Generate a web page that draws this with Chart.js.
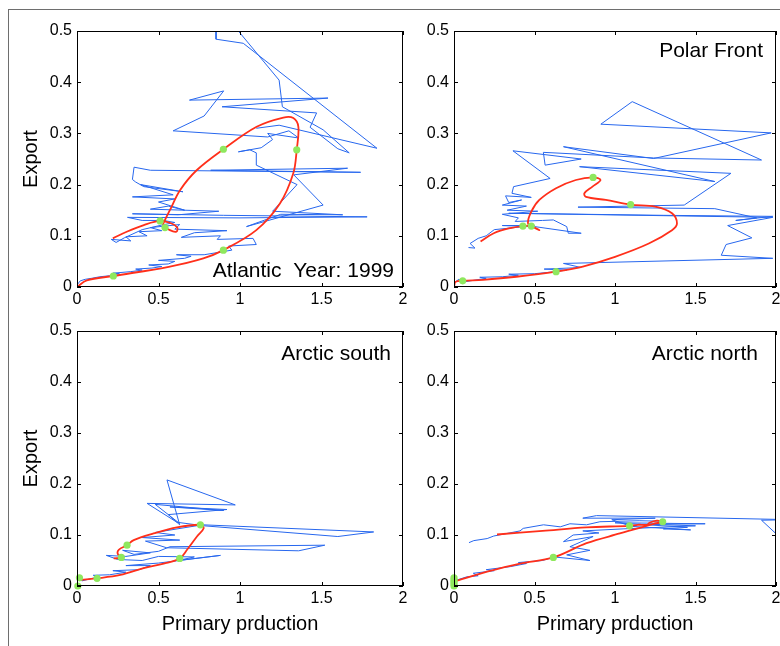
<!DOCTYPE html>
<html>
<head>
<meta charset="utf-8">
<script src="https://cdn.jsdelivr.net/npm/chart.js@4.4.1/dist/chart.umd.min.js"></script>
<style>
  body { margin: 0; background: #fff; }
  #page { position: relative; width: 780px; height: 646px; overflow: hidden; background: #fff; }
  #frame { position: absolute; left: 8px; top: 9px; width: 800px; height: 700px; border-left: 1px solid #6e6e6e; border-top: 1px solid #6e6e6e; }
  canvas { position: absolute; }
</style>
</head>
<body>
<div id="page">
  <div id="frame"></div>
  <canvas id="atlantic" width="410" height="310" style="left:0;top:0"></canvas>
  <canvas id="polar" width="370" height="310" style="left:410px;top:0"></canvas>
  <canvas id="south" width="410" height="336" style="left:0;top:310px"></canvas>
  <canvas id="north" width="370" height="336" style="left:410px;top:310px"></canvas>
</div>
<script>
const xTicks = [0, 0.5, 1, 1.5, 2];
const yTicks = [0, 0.1, 0.2, 0.3, 0.4, 0.5];
const xLabel = 'Primary prduction';
const yLabel = 'Export';

// ---- Atlantic ----
const atlanticObs = [
  [0.00,0.004],[0.02,0.012],[0.05,0.015],[0.09,0.017],[0.14,0.02],[0.2,0.022],[0.26,0.026],[0.22,0.027],
  [0.33,0.03],[0.4,0.033],[0.36,0.035],[0.46,0.037],[0.52,0.04],[0.44,0.043],[0.56,0.045],[0.6,0.05],
  [0.5,0.052],[0.66,0.056],[0.7,0.06],[0.61,0.063],[0.78,0.063],
  [0.95,0.072],[0.93,0.08],[1.1,0.083],[1.08,0.095],[0.86,0.093],[0.88,0.1],[0.64,0.097],[0.72,0.106],
  [0.92,0.11],[0.6,0.113],[0.63,0.122],
  [0.45,0.116],[0.52,0.11],[0.38,0.108],[0.43,0.1],[0.3,0.098],[0.33,0.09],[0.21,0.093],[0.24,0.087],
  [0.29,0.096],[0.4,0.112],[0.52,0.121],[0.6,0.126],[0.53,0.13],[0.4,0.13],
  [0.31,0.136],[1.0,0.135],[1.78,0.137],[0.9,0.14],[0.34,0.143],[0.62,0.141],[0.87,0.148],[0.45,0.152],
  [0.56,0.158],[0.66,0.15],[0.5,0.166],[0.6,0.172],[0.34,0.176],[0.59,0.18],[0.39,0.2],[0.65,0.186],
  [0.41,0.196],[0.36,0.205],[0.34,0.21],[0.35,0.234],[0.45,0.228],[1.74,0.224],[0.82,0.228],[1.66,0.232],
  [1.33,0.219],[1.51,0.16],[1.04,0.118],[1.25,0.142],[1.63,0.141],[1.2,0.148],[1.35,0.2],[1.1,0.238],
  [1.1,0.262],[1.06,0.268],[0.99,0.264],[1.13,0.272],[1.2,0.288],[1.17,0.3],[1.36,0.291],[1.3,0.305],
  [1.17,0.293],[0.59,0.305],[0.78,0.334],[0.9,0.383],[0.69,0.365],[1.54,0.369],[0.89,0.352],[1.47,0.34],
  [1.43,0.312],[1.6,0.27],[1.67,0.262],[1.51,0.307],[1.26,0.352],[1.24,0.404],[0.99,0.5],[0.92,0.53],
  [0.853,0.5],[0.853,0.484],[1.02,0.476],[1.84,0.271],[1.24,0.316],[1.1,0.31]
];
const atlanticFit = [
  [0.22,0.095],[0.305,0.108],[0.41,0.121],[0.51,0.129],[0.58,0.124],[0.615,0.116],[0.61,0.108],[0.57,0.111],
  [0.53,0.121],[0.54,0.131],[0.57,0.15],[0.632,0.189],[0.734,0.228],[0.898,0.269],[1.102,0.313],[1.266,0.331],
  [1.327,0.33],[1.358,0.313],[1.348,0.268],[1.327,0.222],[1.245,0.163],[1.10,0.111],[0.898,0.072],[0.775,0.056],
  [0.57,0.04],[0.223,0.0215],[0.06,0.013],[0,0]
];
const atlanticMarks = [[0.223,0.0215],[0.898,0.072],[1.348,0.268],[0.898,0.269],[0.51,0.129],[0.54,0.116]];

// ---- Polar Front ----
const polarObs = [
  [0,0.008],[0.03,0.015],[0.06,0.01],[0.12,0.013],[0.2,0.017],[0.16,0.019],[0.3,0.02],[0.4,0.023],
  [0.34,0.025],[0.5,0.026],[0.6,0.029],[0.7,0.033],[0.56,0.035],[0.79,0.038],[0.68,0.046],[1.98,0.056],
  [1.66,0.062],[1.69,0.083],[1.85,0.096],[1.7,0.12],[1.98,0.136],[0.34,0.144],[1.3,0.14],[1.98,0.138],
  [1.75,0.13],[1.88,0.135],[1.62,0.153],[0.77,0.156],[1.43,0.16],[1.72,0.222],[0.78,0.235],[1.62,0.206],
  [0.68,0.274],[1.24,0.251],[1.97,0.301],[0.912,0.318],[1.107,0.362],[1.91,0.248],[1.24,0.252],[0.555,0.263],
  [0.566,0.238],[0.79,0.25],[0.366,0.266],[0.597,0.212],[0.37,0.196],[0.36,0.183],[0.48,0.175],[0.32,0.178],
  [0.34,0.165],[0.42,0.17],[0.3,0.16],[0.45,0.158],[0.33,0.15],[0.52,0.148],[0.3,0.142],[0.4,0.135],
  [0.38,0.128],[0.55,0.13],[0.617,0.131],[0.7,0.118],[0.71,0.105],[0.79,0.105],[0.5,0.118],[0.3,0.12],
  [0.5,0.12],[0.25,0.112],[0.2,0.1],[0.15,0.095],[0.1,0.085],[0.13,0.076],[0.09,0.077]
];
const polarFit = [
  [0.165,0.089],[0.247,0.105],[0.35,0.115],[0.43,0.119],[0.48,0.119],[0.53,0.111],[0.5,0.116],[0.46,0.124],
  [0.48,0.147],[0.53,0.17],[0.634,0.193],[0.757,0.209],[0.864,0.214],[0.91,0.209],[0.86,0.196],[0.81,0.183],
  [0.82,0.176],[0.943,0.17],[1.097,0.161],[1.25,0.157],[1.354,0.144],[1.385,0.124],[1.354,0.111],[1.21,0.085],
  [1.0,0.059],[0.8,0.04],[0.634,0.03],[0.387,0.02],[0.18,0.014],[0.054,0.012],[0.01,0.01],[0,0]
];
const polarMarks = [[0.054,0.012],[0.634,0.03],[1.097,0.161],[0.864,0.214],[0.428,0.119],[0.48,0.119]];

// ---- Arctic south ----
const southObs = [
  [0,0],[0,0.022],[0.03,0.01],[0.08,0.014],[0.14,0.018],[0.1,0.021],[0.2,0.022],[0.3,0.027],[0.22,0.03],
  [0.38,0.032],[0.45,0.04],[0.3,0.04],[0.5,0.045],[0.88,0.06],[0.62,0.05],[0.72,0.057],[0.5,0.058],[0.4,0.05],
  [0.25,0.052],[0.18,0.06],[0.3,0.058],[0.45,0.065],[0.28,0.07],[0.35,0.062],[0.5,0.068],[0.57,0.077],
  [1.52,0.08],[1.36,0.069],[0.55,0.075],[0.42,0.088],[0.63,0.09],[0.4,0.095],[0.6,0.1],[0.48,0.105],
  [0.77,0.12],[1.82,0.106],[1.6,0.097],[0.78,0.118],[0.613,0.125],[0.43,0.162],[0.971,0.159],[0.552,0.208],
  [0.63,0.12],[0.56,0.14],[0.92,0.15],[0.57,0.155],[0.9,0.148],[0.48,0.16],[0.62,0.125]
];
const southFit = [
  [0.225,0.054],[0.272,0.056],[0.25,0.063],[0.256,0.071],[0.307,0.08],[0.348,0.09],[0.47,0.103],[0.613,0.115],
  [0.757,0.12],[0.777,0.113],[0.736,0.097],[0.675,0.071],[0.63,0.054],[0.532,0.044],[0.409,0.035],[0.266,0.0216],
  [0.123,0.015],[0.02,0.012],[0,0.01],[0,0]
];
const southMarks = [[0.005,0],[0.015,0.016],[0.123,0.015],[0.63,0.054],[0.757,0.12],[0.307,0.08],[0.272,0.056]];

// ---- Arctic north ----
const northObs = [
  [0,0.002],[0,0.02],[0.02,0.012],[0.08,0.018],[0.15,0.02],[0.12,0.025],[0.25,0.03],[0.2,0.032],[0.35,0.038],
  [0.45,0.044],[0.4,0.046],[0.55,0.05],[0.62,0.057],[0.844,0.05],[0.7,0.061],[0.844,0.07],[0.72,0.077],
  [0.864,0.097],[0.68,0.087],[0.74,0.1],[0.9,0.104],[0.8,0.108],[1.05,0.112],[1.5,0.118],[1.22,0.121],
  [1.56,0.122],[1.0,0.124],[1.45,0.115],[1.3,0.112],[1.47,0.11],[1.1,0.117],[0.98,0.13],[1.25,0.133],
  [0.8,0.133],[0.885,0.138],[2.1,0.13],[1.91,0.129],[2.06,0.085]
];
const northObsTail = [
  [0.093,0.085],[0.123,0.089],[0.206,0.093],[0.247,0.098],[0.41,0.108],[0.43,0.113],[0.556,0.12],[0.66,0.116],
  [0.72,0.122],[0.823,0.12],[0.906,0.126],[1.15,0.128],[1.3,0.127]
];
const northFit = [
  [0.267,0.101],[0.55,0.108],[0.823,0.115],[1.09,0.118],[1.142,0.12],[1.2,0.12],[1.214,0.124],[1.26,0.128],
  [1.296,0.126],[1.235,0.1215],[1.03,0.103],[0.823,0.084],[0.617,0.056],[0.41,0.044],[0.206,0.028],[0,0.0085]
];
const northMarks = [[0,0],[0,0.004],[0,0.008],[0,0.012],[0,0.016],[0.617,0.056],[1.09,0.118],[1.296,0.126]];

const BLUE = '#2767ee';
const RED = '#ff2f1a';
const GREEN = '#8fe85e';
const FONT = '"Liberation Sans", Arial, Helvetica, sans-serif';

const toXY = arr => arr.map(p => ({ x: p[0], y: p[1] }));

// box around the plot, inward ticks on all sides, and the panel label
const boxFrame = {
  id: 'boxFrame',
  afterDatasetsDraw(chart, args, opts) {
    const { ctx, chartArea: a, scales: { x, y } } = chart;
    ctx.save();
    ctx.strokeStyle = '#000';
    ctx.lineWidth = 1;
    ctx.strokeRect(a.left + 0.5, a.top + 0.5, a.right - a.left - 1, a.bottom - a.top - 1);
    ctx.beginPath();
    xTicks.forEach(v => {
      const px = Math.round(x.getPixelForValue(v)) + 0.5;
      ctx.moveTo(px, a.bottom); ctx.lineTo(px, a.bottom - 4);
      ctx.moveTo(px, a.top); ctx.lineTo(px, a.top + 4);
    });
    yTicks.forEach(v => {
      const py = Math.round(y.getPixelForValue(v)) + 0.5;
      ctx.moveTo(a.left, py); ctx.lineTo(a.left + 4, py);
      ctx.moveTo(a.right, py); ctx.lineTo(a.right - 4, py);
    });
    ctx.stroke();
    if (opts.label) {
      ctx.fillStyle = '#000';
      ctx.font = '21px ' + FONT;
      ctx.textAlign = 'right';
      ctx.textBaseline = 'alphabetic';
      const ty = opts.fromBottom ? a.bottom - opts.dy : a.top + opts.dy;
      ctx.fillText(opts.label, a.right - opts.dx, ty);
    }
    ctx.restore();
  }
};

function makePanel(id, cfg) {
  const obsSets = cfg.obs.map(seg => ({
    data: toXY(seg), showLine: true, borderColor: BLUE, borderWidth: 1, pointRadius: 0, tension: 0, order: 3
  }));
  new Chart(document.getElementById(id), {
    type: 'scatter',
    data: {
      datasets: [
        { data: toXY(cfg.marks), showLine: false, pointRadius: 3.6, pointBackgroundColor: GREEN, pointBorderWidth: 0, clip: false, order: 0 },
        { data: toXY(cfg.fit), showLine: true, borderColor: RED, borderWidth: 1.8, pointRadius: 0, tension: 0.35, order: 1 },
        ...obsSets
      ]
    },
    options: {
      responsive: false,
      animation: false,
      devicePixelRatio: 1,
      layout: { padding: cfg.pad },
      plugins: {
        legend: { display: false },
        tooltip: { enabled: false },
        boxFrame: cfg.label
      },
      scales: {
        x: {
          type: 'linear', min: 0, max: 2,
          afterBuildTicks: s => { s.ticks = xTicks.map(v => ({ value: v })); },
          ticks: { color: '#000', padding: 3, font: { family: FONT, size: 16 }, maxRotation: 0, callback: v => String(v) },
          grid: { display: false, drawTicks: false },
          border: { display: false },
          title: { display: cfg.xTitle, text: xLabel, color: '#000', font: { family: FONT, size: 20 }, padding: { top: 0, bottom: 10 } },
          afterFit: s => { s.height = cfg.xH; s.paddingLeft = 0; s.paddingRight = 0; }
        },
        y: {
          type: 'linear', min: 0, max: 0.5,
          afterBuildTicks: s => { s.ticks = yTicks.map(v => ({ value: v })); },
          ticks: { color: '#000', padding: 5, font: { family: FONT, size: 16 }, callback: v => String(v) },
          grid: { display: false, drawTicks: false },
          border: { display: false },
          title: { display: cfg.yTitle, text: yLabel, color: '#000', font: { family: FONT, size: 20 }, padding: { top: 19, bottom: 0 } },
          afterFit: s => { s.width = cfg.yW; s.paddingTop = 0; s.paddingBottom = 0; }
        }
      }
    },
    plugins: [boxFrame]
  });
}

makePanel('atlantic', {
  obs: [atlanticObs], fit: atlanticFit, marks: atlanticMarks,
  pad: { top: 31, right: 7, left: 0, bottom: 0 }, xH: 23, yW: 77, xTitle: false, yTitle: true,
  label: { label: 'Atlantic  Year: 1999', dx: 9, dy: 10, fromBottom: true }
});
makePanel('polar', {
  obs: [polarObs], fit: polarFit, marks: polarMarks,
  pad: { top: 31, right: 2, left: 0, bottom: 0 }, xH: 23, yW: 44, xTitle: false, yTitle: false,
  label: { label: 'Polar Front', dx: 13, dy: 26, fromBottom: false }
});
makePanel('south', {
  obs: [southObs], fit: southFit, marks: southMarks,
  pad: { top: 21, right: 7, left: 0, bottom: 0 }, xH: 60, yW: 77, xTitle: true, yTitle: true,
  label: { label: 'Arctic south', dx: 12, dy: 29, fromBottom: false }
});
makePanel('north', {
  obs: [northObs, northObsTail], fit: northFit, marks: northMarks,
  pad: { top: 21, right: 2, left: 0, bottom: 0 }, xH: 60, yW: 44, xTitle: true, yTitle: false,
  label: { label: 'Arctic north', dx: 18, dy: 29, fromBottom: false }
});
</script>
</body>
</html>
